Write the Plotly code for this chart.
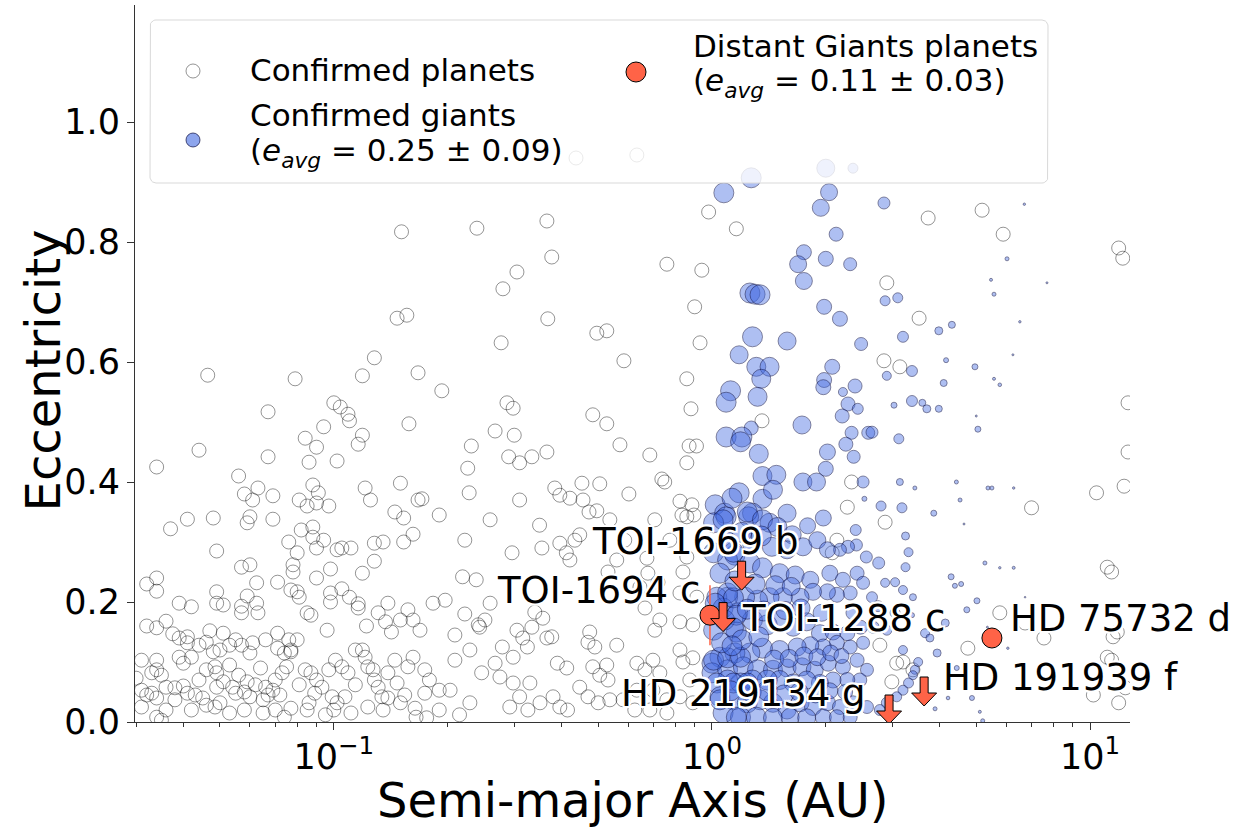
import math
import plotly.graph_objects as go

# ---------------------------------------------------------------- data
# Confirmed planets: (semi-major axis [AU], eccentricity)
confirmed_planets = [
    (0.437, 0.94), (0.633, 0.945), (0.98, 0.85), (1.16, 0.822), (0.366, 0.835), (0.239, 0.823), (0.151, 0.817),
    (0.377, 0.775), (0.305, 0.75), (0.28, 0.722), (0.76, 0.763), (0.94, 0.753), (0.368, 0.672), (0.147, 0.673),
    (0.156, 0.678), (0.277, 0.632), (0.496, 0.648), (0.527, 0.652), (0.585, 0.602), (0.90, 0.692), (0.93, 0.632),
    (0.858, 0.572), (0.88, 0.522), (0.87, 0.46), (0.91, 0.46), (0.858, 0.432), (0.128, 0.607), (0.0464, 0.578),
    (0.079, 0.572), (0.119, 0.577), (0.167, 0.582), (0.193, 0.552), (0.067, 0.517), (0.1, 0.532), (0.104, 0.525),
    (0.109, 0.513), (0.110, 0.502), (0.094, 0.492), (0.084, 0.473), (0.090, 0.458), (0.119, 0.478), (0.116, 0.463),
    (0.158, 0.497), (0.044, 0.453), (0.287, 0.532), (0.298, 0.523), (0.484, 0.512), (0.527, 0.497), (0.267, 0.485),
    (0.30, 0.478), (0.231, 0.46), (0.226, 0.423), (0.29, 0.442), (0.31, 0.432), (0.334, 0.442), (0.366, 0.45),
    (0.228, 0.382), (0.384, 0.39), (0.453, 0.398), (0.505, 0.397), (0.421, 0.373), (0.456, 0.37), (0.473, 0.35),
    (0.496, 0.352), (0.603, 0.38), (0.737, 0.405), (0.75, 0.40), (0.823, 0.368), (0.885, 0.362), (0.858, 0.342),
    (0.896, 0.345), (0.171, 0.372), (0.034, 0.425), (0.067, 0.442), (0.086, 0.433), (0.102, 0.435), (0.056, 0.41),
    (0.058, 0.38), (0.063, 0.39), (0.061, 0.37), (0.069, 0.377), (0.088, 0.395), (0.091, 0.382), (0.081, 0.37),
    (0.085, 0.36), (0.090, 0.365), (0.097, 0.36), (0.121, 0.39), (0.125, 0.37), (0.15, 0.398), (0.167, 0.37),
    (0.041, 0.338), (0.048, 0.34), (0.037, 0.322), (0.060, 0.342), (0.059, 0.332), (0.069, 0.338), (0.082, 0.32),
    (0.088, 0.325), (0.088, 0.308), (0.094, 0.303), (0.090, 0.29), (0.076, 0.30), (0.080, 0.282), (0.078, 0.262),
    (0.078, 0.25), (0.049, 0.285), (0.057, 0.258), (0.060, 0.262), (0.102, 0.287), (0.105, 0.29), (0.111, 0.29),
    (0.128, 0.298), (0.135, 0.30), (0.128, 0.268), (0.145, 0.35), (0.153, 0.34), (0.162, 0.313), (0.153, 0.30),
    (0.098, 0.255), (0.119, 0.248), (0.090, 0.24), (0.032, 0.23), (0.034, 0.24), (0.034, 0.218), (0.071, 0.233),
    (0.0625, 0.232), (0.049, 0.217), (0.049, 0.198), (0.051, 0.195), (0.059, 0.21), (0.0625, 0.198), (0.063, 0.182),
    (0.077, 0.22), (0.080, 0.217), (0.081, 0.208), (0.057, 0.193), (0.057, 0.182), (0.039, 0.198), (0.042, 0.192),
    (0.098, 0.215), (0.105, 0.222), (0.110, 0.208), (0.116, 0.197), (0.116, 0.19), (0.085, 0.182), (0.087, 0.178),
    (0.098, 0.20), (0.139, 0.198), (0.131, 0.182), (0.137, 0.167), (0.142, 0.15), (0.150, 0.17), (0.157, 0.187),
    (0.162, 0.17), (0.169, 0.153), (0.183, 0.198), (0.122, 0.16), (0.096, 0.153), (0.032, 0.16), (0.034, 0.157),
    (0.036, 0.168), (0.0375, 0.147), (0.039, 0.14), (0.041, 0.142), (0.041, 0.132), (0.047, 0.152), (0.051, 0.148),
    (0.046, 0.133), (0.048, 0.117), (0.050, 0.12), (0.053, 0.128), (0.055, 0.137), (0.057, 0.128), (0.060, 0.115),
    (0.061, 0.132), (0.066, 0.137), (0.071, 0.148), (0.076, 0.137), (0.071, 0.123), (0.074, 0.115), (0.077, 0.12),
    (0.080, 0.137), (0.031, 0.103), (0.033, 0.082), (0.034, 0.087), (0.035, 0.078), (0.039, 0.108), (0.040, 0.098),
    (0.042, 0.108), (0.036, 0.058), (0.038, 0.057), (0.040, 0.06), (0.032, 0.045), (0.033, 0.048), (0.034, 0.04),
    (0.046, 0.087), (0.0485, 0.092), (0.049, 0.082), (0.051, 0.067), (0.049, 0.058), (0.041, 0.048), (0.043, 0.045),
    (0.045, 0.04), (0.046, 0.028), (0.0485, 0.025), (0.050, 0.032), (0.054, 0.058), (0.055, 0.048), (0.058, 0.05),
    (0.060, 0.042), (0.062, 0.062), (0.066, 0.058), (0.067, 0.045), (0.069, 0.053), (0.070, 0.07), (0.073, 0.082),
    (0.075, 0.092), (0.077, 0.117), (0.084, 0.087), (0.087, 0.082), (0.090, 0.07), (0.093, 0.058), (0.089, 0.048),
    (0.086, 0.032), (0.097, 0.087), (0.101, 0.103), (0.105, 0.092), (0.109, 0.082), (0.099, 0.042), (0.102, 0.032),
    (0.107, 0.042), (0.119, 0.12), (0.121, 0.108), (0.123, 0.092), (0.127, 0.087), (0.128, 0.07), (0.131, 0.058),
    (0.134, 0.042), (0.139, 0.04), (0.139, 0.082), (0.147, 0.065), (0.157, 0.092), (0.162, 0.108), (0.174, 0.087),
    (0.179, 0.07), (0.174, 0.048), (0.031, 0.025), (0.034, 0.008), (0.036, 0.02), (0.035, 0.003), (0.053, 0.015),
    (0.058, 0.02), (0.065, 0.015), (0.070, 0.02), (0.077, 0.023), (0.085, 0.02), (0.095, 0.012), (0.1, 0.02),
    (0.111, 0.015), (0.123, 0.025), (0.135, 0.02), (0.150, 0.032), (0.165, 0.008), (0.176, 0.007),
    (0.044, 0.07), (0.053, 0.095), (0.056, 0.078), (0.064, 0.09), (0.059, 0.067), (0.065, 0.037), (0.072, 0.045),
    (0.081, 0.062), (0.074, 0.008), (0.042, 0.02), (0.038, 0.037), (0.031, 0.053), (0.030, 0.073), (0.034, 0.103),
    (0.044, 0.128), (0.114, 0.062), (0.114, 0.12), (0.145, 0.103), (0.154, 0.045), (0.19, 0.053), (0.164, 0.023),
    (0.296, 0.282), (0.355, 0.29), (0.396, 0.298), (0.412, 0.282), (0.421, 0.27), (0.447, 0.312), (0.434, 0.303),
    (0.56, 0.27), (0.531, 0.25), (0.673, 0.273), (0.677, 0.248), (0.645, 0.225), (0.72, 0.233), (0.833, 0.345),
    (0.858, 0.275), (0.838, 0.25), (0.912, 0.208), (0.823, 0.215), (0.251, 0.17), (0.259, 0.198), (0.279, 0.125),
    (0.298, 0.108), (0.34, 0.183), (0.357, 0.173), (0.334, 0.158), (0.316, 0.14), (0.305, 0.153), (0.366, 0.14),
    (0.377, 0.142), (0.475, 0.15), (0.47, 0.133), (0.49, 0.125), (0.56, 0.128), (0.665, 0.19), (0.728, 0.17),
    (0.706, 0.153), (0.823, 0.167), (0.89, 0.162), (0.823, 0.12), (0.89, 0.107), (0.838, 0.1), (0.325, 0.125),
    (0.413, 0.09), (0.39, 0.098), (0.484, 0.092), (0.527, 0.095), (0.505, 0.078), (0.531, 0.07), (0.447, 0.058),
    (0.47, 0.042), (0.5, 0.032), (0.537, 0.037), (0.633, 0.098), (0.698, 0.103), (0.665, 0.087), (0.728, 0.082),
    (0.633, 0.053), (0.698, 0.053), (0.76, 0.037), (0.582, 0.037), (0.823, 0.042), (0.874, 0.07), (0.89, 0.032),
    (0.625, 0.02), (0.685, 0.02), (0.76, 0.015), (0.243, 0.158), (0.267, 0.098), (0.275, 0.075), (0.298, 0.065),
    (0.31, 0.042), (0.33, 0.065), (0.292, 0.025), (0.326, 0.02), (0.351, 0.032), (0.38, 0.042), (0.396, 0.025),
    (0.415, 0.02), (0.219, 0.242), (0.238, 0.237), (0.222, 0.18), (0.241, 0.162), (0.229, 0.12), (0.209, 0.103),
    (0.246, 0.082), (0.203, 0.053), (0.229, 0.032), (0.19, 0.02), (0.215, 0.012), (0.197, 0.203), (0.209, 0.145),
    (0.19, 0.345), (0.222, 0.303), (0.259, 0.337), (0.31, 0.37), (0.35, 0.328), (0.396, 0.378), (0.537, 0.337),
    (0.588, 0.303), (0.706, 0.337), (0.774, 0.303), (0.685, 0.445), (0.571, 0.462),
    (1.356, 0.502), (2.85, 0.602), (2.9, 0.732), (2.34, 0.40), (2.87, 0.333), (2.28, 0.358), (2.08, 0.282),
    (2.14, 0.303), (3.08, 0.098), (3.4, 0.087), (3.53, 0.673), (3.14, 0.592), (3.73, 0.84), (5.18, 0.853),
    (5.89, 0.813), (11.9, 0.79), (12.2, 0.773), (12.6, 0.532), (12.6, 0.45), (10.4, 0.382), (12.3, 0.393),
    (7.0, 0.357), (11.1, 0.258), (11.4, 0.25), (5.77, 0.182), (7.55, 0.14), (6.73, 0.165), (11.8, 0.15),
    (11.5, 0.142), (11.1, 0.108), (11.4, 0.103), (4.75, 0.123), (2.78, 0.128), (3.2, 0.10), (2.99, 0.067),
    (10.2, 0.045), (11.9, 0.032), (12.4, 0.057),
]

# Confirmed giants: (semi-major axis [AU], eccentricity, relative marker weight)
confirmed_giants = [
    (1.075, 0.882, 1.0), (1.27, 0.907, 1.0), (2.0, 0.923, 0.9), (2.36, 0.923, 0.5), (2.04, 0.883, 0.85),
    (1.94, 0.857, 0.85), (2.85, 0.865, 0.6), (2.13, 0.813, 0.7), (1.75, 0.783, 0.75), (1.69, 0.763, 0.85),
    (2.0, 0.772, 0.75), (2.32, 0.763, 0.65), (1.75, 0.735, 0.85), (2.87, 0.702, 0.5), (1.26, 0.715, 1.0),
    (1.30, 0.713, 1.0), (1.34, 0.712, 1.0), (1.98, 0.692, 0.75), (2.18, 0.672, 0.75), (1.28, 0.642, 1.0),
    (1.58, 0.635, 0.9), (2.48, 0.63, 0.65), (2.9, 0.577, 0.45), (1.18, 0.612, 0.9), (1.31, 0.592, 0.95),
    (1.42, 0.592, 0.95), (1.35, 0.572, 0.95), (2.08, 0.592, 0.75), (1.98, 0.57, 0.75), (1.97, 0.558, 0.75),
    (2.39, 0.56, 0.7), (2.22, 0.55, 0.45), (1.12, 0.552, 1.0), (1.09, 0.533, 1.0), (1.32, 0.542, 0.95),
    (2.29, 0.53, 0.7), (2.43, 0.522, 0.55), (2.21, 0.51, 0.7), (1.73, 0.495, 0.9), (1.27, 0.49, 0.7),
    (1.09, 0.475, 1.0), (1.2, 0.475, 1.0), (1.19, 0.467, 1.0), (2.34, 0.482, 0.65), (2.59, 0.482, 0.65),
    (2.26, 0.463, 0.7), (2.37, 0.442, 0.65), (2.02, 0.45, 0.8), (1.33, 0.447, 0.95), (2.0, 0.422, 0.75),
    (1.36, 0.41, 0.95), (1.48, 0.412, 0.95), (1.74, 0.40, 0.9), (1.89, 0.40, 0.9), (2.51, 0.40, 0.6),
    (2.53, 0.372, 0.25), (2.8, 0.36, 0.5), (1.18, 0.382, 1.0), (1.36, 0.372, 0.95), (1.45, 0.387, 0.95),
    (1.02, 0.362, 1.0), (1.08, 0.348, 1.0), (1.09, 0.342, 1.0), (1.28, 0.348, 1.0), (1.25, 0.342, 1.0),
    (1.58, 0.348, 0.9), (1.79, 0.327, 0.8), (1.97, 0.34, 0.8), (2.4, 0.32, 0.55), (1.42, 0.332, 0.95),
    (3.14, 0.40, 0.35), (3.44, 0.39, 0.2), (3.18, 0.357, 0.5),
    (6.7, 0.863, 0.12), (6.03, 0.772, 0.2), (5.47, 0.737, 0.15), (5.57, 0.713, 0.2), (7.69, 0.732, 0.1),
    (6.52, 0.667, 0.12), (6.25, 0.612, 0.1), (5.57, 0.572, 0.15), (5.77, 0.562, 0.18), (4.96, 0.592, 0.3),
    (4.16, 0.603, 0.25), (4.1, 0.565, 0.35), (3.98, 0.652, 0.4), (4.31, 0.662, 0.35), (3.1, 0.707, 0.5),
    (3.2, 0.642, 0.55), (3.38, 0.585, 0.55), (3.38, 0.535, 0.55), (3.6, 0.532, 0.35), (3.7, 0.522, 0.4),
    (3.98, 0.522, 0.35), (3.03, 0.528, 0.3), (5.0, 0.51, 0.1), (5.05, 0.488, 0.3), (2.65, 0.483, 0.6),
    (3.12, 0.472, 0.5), (4.43, 0.40, 0.2), (4.53, 0.37, 0.2), (5.37, 0.39, 0.2), (5.5, 0.39, 0.2),
    (6.28, 0.39, 0.12), (3.86, 0.348, 0.3), (4.64, 0.33, 0.1), (3.25, 0.31, 0.4), (3.31, 0.283, 0.45),
    (3.25, 0.258, 0.45), (2.76, 0.265, 0.6), (5.27, 0.265, 0.2), (5.77, 0.257, 0.12), (6.28, 0.257, 0.15),
    (4.29, 0.242, 0.3), (4.39, 0.227, 0.25), (4.56, 0.23, 0.25), (5.02, 0.202, 0.3), (4.72, 0.187, 0.3),
    (5.35, 0.158, 0.1), (6.06, 0.123, 0.12), (6.73, 0.208, 0.08), (4.44, 0.09, 0.25), (4.21, 0.04, 0.18),
    (4.87, 0.04, 0.25), (5.11, 0.017, 0.15), (5.2, 0.002, 0.2), (3.89, 0.022, 0.2), (4.14, 0.165, 0.4),
    (3.66, 0.148, 0.45), (3.77, 0.14, 0.4), (3.94, 0.115, 0.4), (3.2, 0.12, 0.45), (3.38, 0.178, 0.25),
    (3.51, 0.10, 0.45), (3.44, 0.087, 0.45), (3.4, 0.078, 0.45), (3.31, 0.065, 0.5), (3.2, 0.053, 0.5),
    (3.08, 0.042, 0.5), (2.9, 0.032, 0.55), (2.78, 0.02, 0.55),
    (3.05, 0.233, 0.45), (2.87, 0.232, 0.45), (2.65, 0.208, 0.55), (3.2, 0.22, 0.45), (3.4, 0.208, 0.35),
    (3.05, 0.182, 0.5), (2.75, 0.193, 0.55), (2.9, 0.153, 0.5), (2.67, 0.158, 0.6), (2.56, 0.275, 0.6),
    (2.41, 0.295, 0.6), (2.29, 0.292, 0.65), (2.18, 0.287, 0.65),
    (1.13, 0.373, 1.0), (1.24, 0.35, 1.0), (1.36, 0.337, 1.0), (1.49, 0.325, 0.95), (1.63, 0.312, 0.9),
    (1.74, 0.292, 0.9), (1.9, 0.303, 0.85), (2.02, 0.287, 0.8), (1.58, 0.287, 0.9), (1.44, 0.292, 0.95),
    (1.28, 0.298, 1.0), (1.15, 0.278, 1.0), (1.26, 0.265, 1.0), (1.36, 0.257, 1.0), (1.51, 0.248, 0.95),
    (1.66, 0.245, 0.9), (1.82, 0.237, 0.85), (2.05, 0.248, 0.8), (2.22, 0.237, 0.75), (2.42, 0.248, 0.7),
    (2.51, 0.232, 0.65), (2.32, 0.215, 0.7), (2.14, 0.212, 0.75), (2.02, 0.217, 0.8), (1.85, 0.217, 0.85),
    (1.71, 0.208, 0.9), (1.54, 0.208, 0.95), (1.42, 0.208, 0.95), (1.32, 0.203, 1.0), (1.22, 0.208, 1.0),
    (1.1, 0.208, 1.0), (1.03, 0.208, 1.0), (1.07, 0.19, 1.0), (1.17, 0.182, 1.0), (1.16, 0.15, 1.0),
    (1.28, 0.17, 1.0), (1.4, 0.162, 1.0), (1.51, 0.17, 0.95), (1.64, 0.158, 0.9), (1.78, 0.167, 0.9),
    (1.93, 0.148, 0.85), (2.09, 0.15, 0.8), (2.28, 0.148, 0.75), (2.47, 0.158, 0.7), (2.36, 0.182, 0.7),
    (2.51, 0.132, 0.65), (2.32, 0.125, 0.7), (2.14, 0.132, 0.75), (1.97, 0.125, 0.8), (1.82, 0.128, 0.85),
    (1.68, 0.125, 0.9), (1.51, 0.12, 0.95), (1.36, 0.123, 1.0), (1.26, 0.115, 1.0), (1.15, 0.115, 1.0),
    (1.05, 0.108, 1.0), (1.0, 0.098, 1.0), (1.0, 0.082, 1.0), (1.1, 0.087, 1.0), (1.21, 0.092, 1.0),
    (1.32, 0.087, 1.0), (1.45, 0.087, 0.95), (1.58, 0.09, 0.9), (1.73, 0.092, 0.9), (1.87, 0.087, 0.85),
    (2.03, 0.098, 0.8), (2.22, 0.092, 0.75), (2.42, 0.103, 0.7), (2.57, 0.087, 0.65), (2.46, 0.07, 0.7),
    (2.28, 0.07, 0.75), (2.09, 0.07, 0.8), (1.93, 0.065, 0.85), (1.78, 0.07, 0.9), (1.64, 0.065, 0.9),
    (1.51, 0.07, 0.95), (1.4, 0.07, 1.0), (1.28, 0.07, 1.0), (1.19, 0.065, 1.0), (1.1, 0.07, 1.0),
    (1.03, 0.065, 1.0), (1.05, 0.042, 1.0), (1.14, 0.037, 1.0), (1.24, 0.032, 1.0), (1.34, 0.037, 1.0),
    (1.45, 0.032, 0.95), (1.58, 0.02, 0.9), (1.71, 0.032, 0.9), (1.85, 0.025, 0.85), (2.02, 0.032, 0.8),
    (2.18, 0.025, 0.75), (2.36, 0.032, 0.7), (2.57, 0.025, 0.65), (1.07, 0.015, 1.0), (1.19, 0.008, 1.0),
    (1.31, 0.008, 1.0), (1.45, 0.007, 0.95), (1.61, 0.008, 0.9), (1.78, 0.007, 0.9), (1.97, 0.008, 0.8),
    (2.14, 0.008, 0.75), (2.32, 0.008, 0.7),
    (1.01, 0.332, 1.0), (1.07, 0.337, 1.0), (1.01, 0.282, 1.0), (1.1, 0.27, 1.0), (1.14, 0.283, 1.0),
    (1.05, 0.248, 1.0), (1.1, 0.215, 1.0), (1.02, 0.198, 1.0), (1.14, 0.207, 1.0), (1.08, 0.17, 1.0),
    (1.16, 0.178, 1.0), (1.01, 0.153, 1.0), (1.14, 0.157, 1.0), (1.01, 0.103, 1.0), (1.1, 0.107, 1.0),
    (1.19, 0.108, 1.0), (1.14, 0.065, 1.0), (1.24, 0.065, 1.0), (1.05, 0.037, 1.0), (1.16, 0.008, 1.0),
    (1.06, 0.132, 1.0), (1.2, 0.137, 1.0), (1.33, 0.142, 1.0), (1.46, 0.104, 0.95), (1.6, 0.106, 0.9),
    (1.75, 0.11, 0.9), (1.9, 0.108, 0.85), (2.06, 0.115, 0.8), (2.2, 0.11, 0.75), (1.12, 0.052, 1.0),
    (1.27, 0.05, 1.0), (1.4, 0.052, 1.0), (1.55, 0.046, 0.95), (1.7, 0.05, 0.9), (1.88, 0.046, 0.85),
    (2.05, 0.052, 0.8), (2.25, 0.05, 0.75), (1.15, 0.235, 1.0), (1.3, 0.23, 1.0), (1.47, 0.228, 0.95),
    (1.62, 0.226, 0.9), (1.2, 0.316, 1.0), (1.35, 0.31, 1.0), (1.1, 0.3, 1.0), (1.13, 0.127, 1.0),
    (1.24, 0.188, 1.0), (1.37, 0.185, 1.0), (1.56, 0.186, 0.9), (1.72, 0.19, 0.9), (1.95, 0.182, 0.85),
]

# Distant Giants planets with measured eccentricity
distant_names = ["TOI-1694 c", "HD 75732 d"]
distant_a = [0.988, 5.50]
distant_e = [0.178, 0.140]
distant_e_err = [0.050, 0.0]

# Distant Giants planets with eccentricity upper limits
limit_names = ["TOI-1669 b", "TOI-1288 c", "HD 219134 g", "HD 191939 f"]
limit_a = [1.198, 1.07, 2.94, 3.64]
limit_e_max = [0.268, 0.199, 0.045, 0.075]

giants_e_avg, giants_e_std = 0.25, 0.09
distant_e_avg, distant_e_std = 0.11, 0.03

x_tick_vals = [0.1, 1, 10]
x_tick_text = ["10<sup>\u22121</sup>", "10<sup>0</sup>", "10<sup>1</sup>"]
x_minor_vals = [m * 10.0 ** p for p in (-2, -1, 0) for m in range(2, 10)]
y_tick_vals = [0.0, 0.2, 0.4, 0.6, 0.8, 1.0]
y_tick_text = ["0.0", "0.2", "0.4", "0.6", "0.8", "1.0"]

# ---------------------------------------------------------------- geometry
W, H = 1239, 827
M_L, M_R, M_T, M_B = 135, 109, 5, 105
X_RANGE = (0.0298, 12.75)
Y_RANGE = (0.0, 1.195)
PLOT_W = W - M_L - M_R
PLOT_H = H - M_T - M_B
PX_PER_DEC = PLOT_W / (math.log10(X_RANGE[1]) - math.log10(X_RANGE[0]))
PX_PER_UNIT = PLOT_H / (Y_RANGE[1] - Y_RANGE[0])

FONT = "DejaVu Sans"
TOMATO = "#FF6347"
GREY_EDGE = "rgba(0,0,0,0.42)"
BLUE_FACE = "rgba(65,105,225,0.6)"
BLUE_EDGE = "rgba(0,0,50,0.65)"


def offset_x(a, px):
    """Move a log-axis value by a number of screen pixels."""
    return a * 10 ** (px / PX_PER_DEC)


def offset_y(e, px):
    return e + px / PX_PER_UNIT


def down_arrow(a, e, shaft=4.0, head=12.5, head_len=13.0, length=29.0):
    """Outline of a downward arrow starting at (a, e), in data units."""
    neck = -(length - head_len)
    outline = [(-shaft, 0), (shaft, 0), (shaft, neck), (head, neck), (0, -length),
               (-head, neck), (-shaft, neck), (-shaft, 0)]
    return [offset_x(a, dx) for dx, _ in outline], [offset_y(e, dy) for _, dy in outline]


def rounded_box(x0, y0, x1, y1, r, n=8):
    """Closed outline of a rounded rectangle (pixel frame, y downwards)."""
    xs, ys = [], []
    corners = [(x1 - r, y0 + r, -90), (x1 - r, y1 - r, 0), (x0 + r, y1 - r, 90), (x0 + r, y0 + r, 180)]
    for cx, cy, start in corners:
        for k in range(n + 1):
            t = math.radians(start + 90 * k / n)
            xs.append(cx + r * math.cos(t))
            ys.append(cy + r * math.sin(t))
    return xs + [xs[0]], ys + [ys[0]]


fig = go.Figure()

# confirmed planets (open grey circles)
fig.add_trace(go.Scatter(
    x=[p[0] for p in confirmed_planets], y=[p[1] for p in confirmed_planets],
    mode="markers", showlegend=False, hoverinfo="skip",
    marker=dict(size=14, color="rgba(0,0,0,0)", line=dict(color=GREY_EDGE, width=1)),
))

# confirmed giants (blue, sized by weight)
fig.add_trace(go.Scatter(
    x=[g[0] for g in confirmed_giants], y=[g[1] for g in confirmed_giants],
    mode="markers", showlegend=False, hoverinfo="skip",
    marker=dict(size=[20 * g[2] for g in confirmed_giants], sizemode="diameter",
                color=BLUE_FACE, line=dict(color=BLUE_EDGE, width=1)),
))

# distant giants with measured eccentricity
fig.add_trace(go.Scatter(
    x=distant_a, y=distant_e, mode="markers", showlegend=False, hoverinfo="skip",
    error_y=dict(type="data", array=distant_e_err, visible=True, color=TOMATO, thickness=1.5, width=0),
    marker=dict(size=20, color=TOMATO, line=dict(color="black", width=1)),
))

# upper limits drawn as downward arrows
arr_x, arr_y = [], []
for a, e in zip(limit_a, limit_e_max):
    xs, ys = down_arrow(a, e)
    arr_x += xs + [None]
    arr_y += ys + [None]
fig.add_trace(go.Scatter(
    x=arr_x, y=arr_y, mode="lines", fill="toself", fillcolor=TOMATO,
    line=dict(color="black", width=1), showlegend=False, hoverinfo="skip",
))

# planet name labels with a white halo
halo = ", ".join(f"{dx}px {dy}px 0 #fff" for dx in (-2, 0, 2) for dy in (-2, 0, 2) if dx or dy)
label_style = {
    "TOI-1669 b": dict(xanchor="center", xshift=-47, yshift=20),
    "TOI-1694 c": dict(xanchor="right", xshift=-8, yshift=25),
    "TOI-1288 c": dict(xanchor="left", xshift=17, yshift=-16),
    "HD 219134 g": dict(xanchor="right", xshift=-21, yshift=2),
    "HD 191939 f": dict(xanchor="left", xshift=17, yshift=0),
    "HD 75732 d": dict(xanchor="left", xshift=16, yshift=20),
}
anchors = list(zip(distant_names, distant_a, distant_e)) + list(zip(limit_names, limit_a, limit_e_max))
for name, a, e in anchors:
    st = label_style[name]
    fig.add_annotation(
        x=math.log10(a), y=e, xref="x", yref="y", text=name, showarrow=False,
        xanchor=st["xanchor"], yanchor="middle", xshift=st["xshift"], yshift=st["yshift"],
        font=dict(family=FONT, size=37, color="black", shadow=halo),
    )

# ---------------------------------------------------------------- legend
# drawn on an overlaid pixel frame (origin at the top-left of the plot area)
box_x, box_y = rounded_box(15, 15, 913, 178, 6)
fig.add_trace(go.Scatter(
    x=box_x, y=box_y, xaxis="x2", yaxis="y2", mode="lines", fill="toself",
    fillcolor="rgba(255,255,255,0.8)", line=dict(color="#d9d9d9", width=1),
    showlegend=False, hoverinfo="skip",
))
legend_items = [
    dict(xy=(58, 66), size=14, face="rgba(0,0,0,0)", edge=GREY_EDGE,
         lines=[("Confirmed planets", 65)]),
    dict(xy=(58, 135), size=14, face=BLUE_FACE, edge=BLUE_EDGE,
         lines=[("Confirmed giants", 109.5),
                (f"(<i>e</i><sub><i>avg</i></sub> = {giants_e_avg:.2f} \u00b1 {giants_e_std:.2f})", 147)]),
    dict(xy=(501, 67), size=20, face=TOMATO, edge="black",
         lines=[("Distant Giants planets", 41),
                (f"(<i>e</i><sub><i>avg</i></sub> = {distant_e_avg:.2f} \u00b1 {distant_e_std:.2f})", 77)]),
]
for item in legend_items:
    mx, my = item["xy"]
    fig.add_trace(go.Scatter(
        x=[mx], y=[my], xaxis="x2", yaxis="y2", mode="markers", showlegend=False, hoverinfo="skip",
        marker=dict(size=item["size"], color=item["face"], line=dict(color=item["edge"], width=1)),
    ))
    for text, ty in item["lines"]:
        fig.add_annotation(
            x=mx + 55, y=ty, xref="x2", yref="y2", text=text, showarrow=False,
            xanchor="left", yanchor="middle", font=dict(family=FONT, size=31, color="black"),
        )

# axis titles
fig.add_annotation(
    x=0.5005, y=-0.109, xref="paper", yref="paper", text="Semi-major Axis (AU)",
    showarrow=False, xanchor="center", yanchor="middle", borderpad=0,
    font=dict(family=FONT, size=48, color="black"),
)
fig.add_annotation(
    x=-0.093, y=0.491, xref="paper", yref="paper", text="Eccentricity", textangle=-90,
    showarrow=False, xanchor="center", yanchor="middle", borderpad=0,
    font=dict(family=FONT, size=48, color="black"),
)

axis_common = dict(
    showline=True, linecolor="#333", linewidth=1, ticks="outside", ticklen=7, tickwidth=1,
    tickcolor="#333", showgrid=False, zeroline=False, mirror=False,
    tickfont=dict(family=FONT, size=35, color="black"),
)
fig.update_layout(
    xaxis=dict(
        type="log", range=[math.log10(X_RANGE[0]), math.log10(X_RANGE[1])],
        tickmode="array", tickvals=x_tick_vals, ticktext=x_tick_text, ticklabelstandoff=-3,
        minor=dict(tickmode="array", tickvals=x_minor_vals, ticks="outside", ticklen=4,
                   tickwidth=1, tickcolor="#333", showgrid=False),
        **axis_common,
    ),
    yaxis=dict(range=list(Y_RANGE), tickmode="array", tickvals=y_tick_vals, ticktext=y_tick_text,
               **axis_common),
    xaxis2=dict(overlaying="x", range=[0, PLOT_W], visible=False, fixedrange=True, anchor="y2"),
    yaxis2=dict(overlaying="y", range=[PLOT_H, 0], visible=False, fixedrange=True, anchor="x2"),
    width=W, height=H, margin=dict(l=M_L, r=M_R, t=M_T, b=M_B),
    paper_bgcolor="white", plot_bgcolor="white",
    font=dict(family=FONT, color="black"),
    showlegend=False,
)

fig.write_html("out.html")
